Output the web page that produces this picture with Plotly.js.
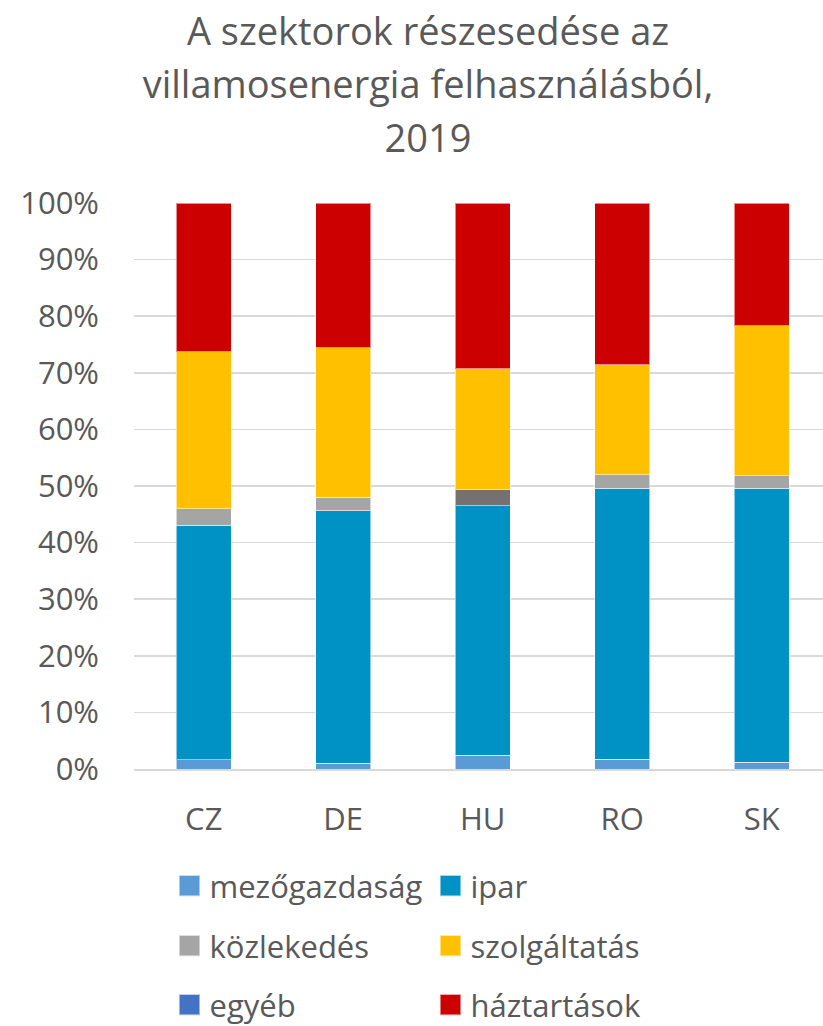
<!DOCTYPE html>
<html>
<head>
<meta charset="utf-8">
<script src="https://cdn.plot.ly/plotly-3.0.1.min.js"></script>
<style>
  html, body { margin: 0; padding: 0; background: #fff; }
  #chart { width: 823px; height: 1026px; }
  .legendpoints path {
    transform-box: fill-box;
    transform-origin: center;
    transform: translate(20px, 0px) scale(1.75);
  }
</style>
</head>
<body>
<div id="chart"></div>
<script>
// Data (percent share of electricity consumption, 2019)
const countries = ['CZ', 'DE', 'HU', 'RO', 'SK'];
const mezogazdasag = [1.6, 1.0, 2.4, 1.7, 1.2];
const ipar = [41.5, 44.6, 44.1, 47.9, 48.4];
const kozlekedes = [2.9, 2.4, 2.8, 2.4, 2.2];
const szolgaltatas = [27.7, 26.4, 21.4, 19.4, 26.5];
const egyeb = [0, 0, 0, 0, 0];
const haztartasok = [26.3, 25.6, 29.3, 28.6, 21.7];
const yTicks = [0, 10, 20, 30, 40, 50, 60, 70, 80, 90, 100];

const fontFam = '"Open Sans", "Liberation Sans", Arial, sans-serif';
const gray = '#595959';
const outline = {color: 'rgba(255,255,255,0.55)', width: 1};

function bar(name, y, color, legendId) {
  return {
    type: 'bar', name: name, x: countries, y: y,
    marker: {color: color, line: outline},
    legend: legendId,
    hoverinfo: 'x+y+name'
  };
}

const kozlColors = countries.map(c => c === 'HU' ? '#767171' : '#A5A5A5');

const traces = [
  bar('mezőgazdaság', mezogazdasag, '#5B9BD5', 'legend'),
  bar('ipar', ipar, '#0091C5', 'legend'),
  bar('közlekedés', kozlekedes, kozlColors, 'legend2'),
  bar('szolgáltatás', szolgaltatas, '#FFC000', 'legend2'),
  bar('egyéb', egyeb, '#4472C4', 'legend3'),
  bar('háztartások', haztartasok, '#CC0000', 'legend3')
];

function legendRow(yPix) {
  return {
    orientation: 'h',
    xref: 'container', yref: 'container',
    x: 169.5 / 823, xanchor: 'left',
    y: 1 - yPix / 1026, yanchor: 'middle',
    font: {family: fontFam, size: 31, color: gray},
    entrywidth: 216, entrywidthmode: 'pixels',
    traceorder: 'normal',
    bgcolor: 'rgba(0,0,0,0)'
  };
}

const layout = {
  width: 823, height: 1026,
  paper_bgcolor: '#ffffff', plot_bgcolor: '#ffffff',
  font: {family: fontFam, color: gray},
  margin: {l: 134, r: 0, t: 203, b: 257, pad: 0},
  barmode: 'stack',
  bargap: 0.605,
  title: {
    text: '<span style="font-size:38px">A szektorok részesedése az</span><br>' +
          '<span style="font-size:38px">villamosenergia felhasználásból,</span><br>' +
          '<span style="font-size:38px">2019</span>',
    font: {family: fontFam, size: 41, color: gray},
    xref: 'container', x: 428 / 823, xanchor: 'center',
    yref: 'container', y: 1 - 45 / 1026, yanchor: 'top'
  },
  xaxis: {
    type: 'category',
    range: [-0.5, 4.44],
    showgrid: false,
    showline: true, linecolor: '#d9d9d9', linewidth: 1.5,
    ticks: '',
    ticklabelstandoff: 22,
    tickfont: {family: fontFam, size: 31, color: gray},
    fixedrange: true
  },
  yaxis: {
    range: [0, 100],
    tickvals: yTicks,
    ticktext: yTicks.map(v => v + '%'),
    showgrid: true, gridcolor: '#d9d9d9', gridwidth: 1.5,
    zeroline: false,
    showline: false,
    ticks: '',
    ticklabelstandoff: 34,
    tickfont: {family: fontFam, size: 31, color: gray},
    fixedrange: true
  },
  legend: legendRow(886),
  legend2: legendRow(946),
  legend3: legendRow(1005)
};

Plotly.newPlot('chart', traces, layout, {displayModeBar: false, staticPlot: true});
</script>
</body>
</html>
